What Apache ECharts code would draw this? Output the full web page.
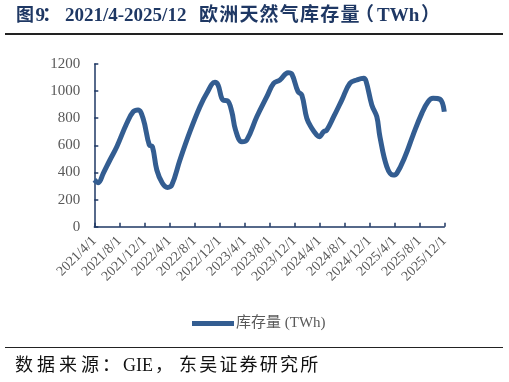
<!DOCTYPE html>
<html>
<head>
<meta charset="utf-8">
<script src="https://cdn.jsdelivr.net/npm/echarts@6/dist/echarts.min.js"></script>
<style>
  html, body { margin: 0; padding: 0; background: #fff; }
  #chart { width: 509px; height: 382px; }
</style>
</head>
<body>
<div id="chart"></div>
<script>
  // 欧洲天然气库存量 (TWh)
  const dates = [
    '2021-04-01','2021-04-20','2021-05-14','2021-06-16','2021-07-19','2021-09-07','2021-10-08','2021-11-01',
    '2021-11-25','2021-12-25','2022-01-10','2022-02-01','2022-02-28','2022-03-22','2022-04-13','2022-05-22',
    '2022-07-10','2022-08-28','2022-10-01','2022-11-10','2022-11-25','2022-12-19','2023-01-10','2023-02-01',
    '2023-02-19','2023-03-19','2023-04-13','2023-06-01','2023-07-19','2023-08-22','2023-09-22','2023-11-01',
    '2023-11-19','2023-12-19','2024-01-07','2024-02-01','2024-02-25','2024-03-19','2024-04-01','2024-04-22',
    '2024-05-07','2024-06-10','2024-07-19','2024-08-28','2024-10-01','2024-11-04','2024-11-16','2024-12-13',
    '2025-01-07','2025-01-22','2025-02-25','2025-03-25','2025-04-13','2025-05-22','2025-07-01','2025-08-13',
    '2025-09-13','2025-10-07','2025-11-10','2025-12-01'
  ];
  const storage = [
    345, 325, 394, 492, 590, 763, 848, 861,
    800, 603, 590, 418, 320, 290, 307, 492,
    701, 885, 984, 1065, 1045, 934, 929, 848,
    713, 627, 640, 811, 959, 1058, 1082, 1136,
    1126, 996, 971, 800, 726, 676, 664, 701,
    713, 811, 934, 1058, 1082, 1094, 1070, 898,
    811, 664, 443, 381, 394, 516, 676, 836,
    922, 947, 940, 848
  ];
  const seriesName = '库存量 (TWh)';
  const yTicks = [0, 200, 400, 600, 800, 1000, 1200];

  // months since 2021/4/1
  function monthOffset(s) {
    const p = s.split('-').map(Number);
    return (p[0] - 2021) * 12 + (p[1] - 4) + (p[2] - 1) / 30;
  }
  function offsetLabel(v) {
    const t = 3 + Math.round(v);
    return (2021 + Math.floor(t / 12)) + '/' + (t % 12 + 1) + '/1';
  }

  const points = dates.map((d, i) => [monthOffset(d), storage[i]]);

  const axisColor = '#1f3864';
  const labelColor = '#595959';
  const serif = '"Liberation Serif", "Noto Sans CJK SC", serif';

  // text pieces, each char of a run placed at a fixed pitch (the original has wide CJK spacing)
  function run(str, x, y, pitch, font, fill) {
    return str.split('').map((ch, i) => ({
      type: 'text', x: x + i * pitch, y: y,
      style: { text: ch, font: font, fill: fill, verticalAlign: 'middle' }
    }));
  }
  function piece(str, x, y, font, fill) {
    return { type: 'text', x: x, y: y, style: { text: str, font: font, fill: fill, verticalAlign: 'middle' } };
  }

  const titleFont = 'bold 19px ' + serif;
  const titleFill = '#1f3864';
  const srcFont = '18px ' + serif;
  const srcFill = '#111';

  const graphics = [].concat(
    piece('图', 16, 16, 'bold 18px ' + serif, titleFill),
    piece('9', 35.5, 16, titleFont, titleFill),
    piece('：', 42, 16, titleFont, titleFill),
    piece('2021/4-2025/12', 65, 16, titleFont, titleFill),
    run('欧洲天然气库存量', 199, 16, 20.2, titleFont, titleFill),
    piece('（', 355, 16, titleFont, titleFill),
    piece('TWh', 377, 16, titleFont, titleFill),
    piece('）', 421, 16, titleFont, titleFill),
    run('数据来源', 15, 366, 22, srcFont, srcFill),
    piece('：', 102, 366, srcFont, srcFill),
    piece('GIE', 123, 366, srcFont, srcFill),
    piece('，', 155, 366, srcFont, srcFill),
    run('东吴证券研究所', 179, 366, 20.2, srcFont, srcFill),
    [
      { type: 'line', shape: { x1: 5, y1: 34, x2: 503, y2: 34 }, style: { stroke: '#222', lineWidth: 2 } },
      { type: 'line', shape: { x1: 5, y1: 347.5, x2: 503, y2: 347.5 }, style: { stroke: '#222', lineWidth: 1 } }
    ]
  );

  const chart = echarts.init(document.getElementById('chart'));
  chart.setOption({
    animation: false,
    graphic: graphics,
    grid: { left: 94.3, right: 64.7, top: 64, bottom: 155.3 },
    legend: {
      data: [seriesName],
      left: 187, top: 311,
      icon: 'rect', itemWidth: 42, itemHeight: 5,
      itemGap: 4,
      textStyle: { color: labelColor, fontSize: 15, fontFamily: serif, padding: [0, 0, 0, -3] }
    },
    xAxis: {
      type: 'value', min: 0, max: 56, interval: 4,
      axisLine: { show: true, lineStyle: { color: axisColor, width: 1.5 } },
      axisTick: { show: true, inside: true, length: 4, lineStyle: { color: axisColor, width: 1.5 } },
      splitLine: { show: false },
      axisLabel: {
        rotate: 45, margin: 12, color: labelColor, fontSize: 14, fontFamily: serif,
        showMinLabel: true, showMaxLabel: true,
        formatter: offsetLabel
      }
    },
    yAxis: {
      type: 'value', min: 0, max: 1200, interval: 200,
      axisLine: { show: true, lineStyle: { color: axisColor, width: 1.5 } },
      axisTick: { show: true, inside: true, length: 4, lineStyle: { color: axisColor, width: 1.5 } },
      splitLine: { show: false },
      axisLabel: {
        margin: 14, color: labelColor, fontSize: 15, fontFamily: serif,
        formatter: v => yTicks.includes(v) ? String(v) : ''
      }
    },
    series: [{
      name: seriesName,
      type: 'line',
      data: points,
      smooth: 0.4,
      showSymbol: false,
      lineStyle: { color: '#335d91', width: 5 },
      itemStyle: { color: '#335d91' }
    }]
  });
</script>
</body>
</html>
